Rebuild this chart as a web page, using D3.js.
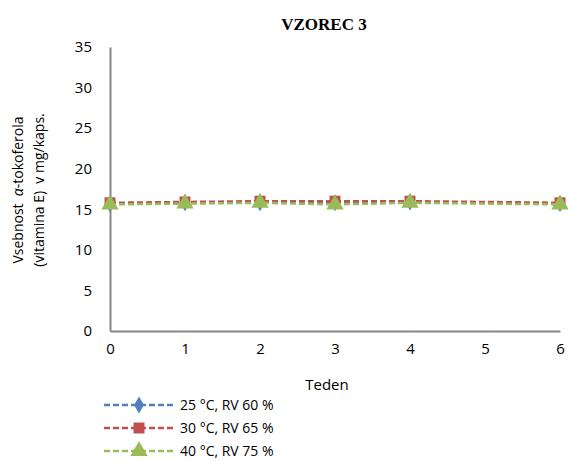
<!DOCTYPE html>
<html>
<head>
<meta charset="utf-8">
<script src="https://cdn.jsdelivr.net/npm/d3@7"></script>
<style>
  body { margin: 0; background: #fff; }
  text { font-family: "Open Sans", "Liberation Sans", sans-serif; fill: #000; white-space: pre; }
</style>
</head>
<body>
<svg id="chart" width="568" height="461"></svg>
<script>
// podatki
const weeks = [0, 1, 2, 3, 4, 6];
const xTicks = [0, 1, 2, 3, 4, 5, 6];
const yTicks = [0, 5, 10, 15, 20, 25, 30, 35];
const seriesNames = ["25 °C, RV 60 %", "30 °C, RV 65 %", "40 °C, RV 75 %"];
const s25 = [15.7, 15.8, 15.8, 15.8, 15.9, 15.7];
const s30 = [15.8, 15.9, 16.0, 16.0, 16.0, 15.8];
const s40 = [15.6, 15.7, 15.8, 15.6, 15.8, 15.6];
const colors = ["#4F81BD", "#C0504D", "#9BBB59"];
const symbols = [d3.symbolDiamond, d3.symbolSquare, d3.symbolTriangle];

const svg = d3.select("#chart");
const plotLeft = 110, plotRight = 560, plotTop = 47, plotBottom = 331;

const x = d3.scaleLinear().domain([0, 6]).range([plotLeft, plotRight]);
const y = d3.scaleLinear().domain([0, 35]).range([plotBottom, plotTop]);

// osi
const xAxis = svg.append("g")
    .attr("transform", "translate(0," + plotBottom + ")")
    .call(d3.axisBottom(x).tickValues(xTicks).tickFormat(d3.format("d")).tickSize(0).tickPadding(12));
const yAxis = svg.append("g")
    .attr("transform", "translate(" + plotLeft + ",0)")
    .call(d3.axisLeft(y).tickValues(yTicks).tickFormat(d3.format("d")).tickSize(0).tickPadding(18));
[xAxis, yAxis].forEach(function (a) {
  a.select(".domain").attr("stroke", "#868686").attr("stroke-width", 2);
  a.selectAll("text").style("font-size", "15px")
      .style("font-family", "\"Open Sans\", \"Liberation Sans\", sans-serif");
});

// serije
const data = [s25, s30, s40];
const line = d3.line().x((d, i) => x(weeks[i])).y(d => y(d));
const markerSizes = [85, 120, 130];

data.forEach(function (vals, k) {
  svg.append("path")
      .datum(vals)
      .attr("d", line)
      .attr("fill", "none")
      .attr("stroke", colors[k])
      .attr("stroke-width", 2.5)
      .attr("stroke-dasharray", "6,3");
  svg.selectAll(".m" + k)
      .data(vals)
      .enter().append("path")
      .attr("class", "m" + k)
      .attr("transform", (d, i) => "translate(" + x(weeks[i]) + "," + y(d) + ")")
      .attr("d", d3.symbol().type(symbols[k]).size(markerSizes[k]))
      .attr("fill", colors[k]);
});

// naslov
svg.append("text")
    .attr("x", 324).attr("y", 30)
    .attr("text-anchor", "middle")
    .style("font-family", "\"Liberation Serif\", \"Times New Roman\", serif")
    .style("font-weight", "bold")
    .style("font-size", "17px")
    .text("VZOREC 3");

// naslov osi x
svg.append("text")
    .attr("x", 327).attr("y", 390)
    .attr("text-anchor", "middle")
    .style("font-size", "15px")
    .text("Teden");

// naslov osi y
const yt = svg.append("text")
    .attr("transform", "translate(23,190) rotate(-90)")
    .attr("text-anchor", "middle")
    .style("font-size", "14px");
yt.append("tspan").attr("x", 0).attr("dy", 0).text("Vsebnost  ");
yt.append("tspan").style("font-style", "italic").text("α");
yt.append("tspan").text("-tokoferola");
yt.append("tspan").attr("x", 0).attr("dy", 21).text("(vitamina E)  v mg/kaps.");

// legenda
seriesNames.forEach(function (name, k) {
  const ly = 405 + k * 23;
  svg.append("line")
      .attr("x1", 104).attr("x2", 174)
      .attr("y1", ly).attr("y2", ly)
      .attr("stroke", colors[k])
      .attr("stroke-width", 2.5)
      .attr("stroke-dasharray", "6,3");
  svg.append("path")
      .attr("transform", "translate(139," + ly + ")")
      .attr("d", d3.symbol().type(symbols[k]).size(markerSizes[k]))
      .attr("fill", colors[k]);
  svg.append("text")
      .attr("x", 180).attr("y", ly + 5)
      .style("font-size", "14px")
      .text(name);
});
</script>
</body>
</html>
